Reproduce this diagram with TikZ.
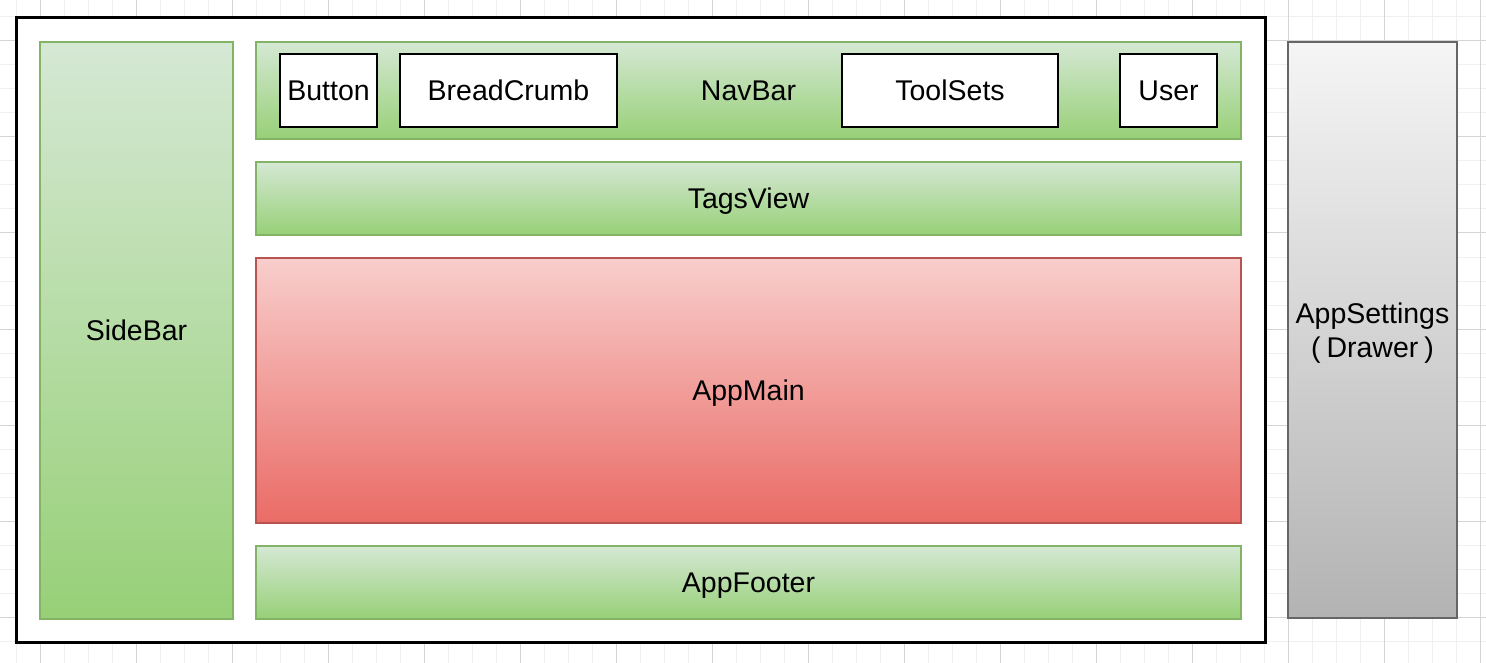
\documentclass[tikz,border=0pt]{standalone}
\usepackage{fontspec}
\setmainfont{Liberation Sans}
\usepackage{xcolor}

\definecolor{greenTop}{HTML}{D5E8D4}
\definecolor{greenBot}{HTML}{97D077}
\definecolor{greenLine}{HTML}{82B366}
\definecolor{redTop}{HTML}{F8CECC}
\definecolor{redBot}{HTML}{EA6B66}
\definecolor{redLine}{HTML}{B85450}
\definecolor{grayTop}{HTML}{F5F5F5}
\definecolor{grayBot}{HTML}{B3B3B3}
\definecolor{grayLine}{HTML}{666666}
\definecolor{gridMinor}{HTML}{F0F0F0}
\definecolor{gridMajor}{HTML}{D4D4D4}

\tikzset{
    minorline/.style={gridMinor, line width=1pt},
    majorline/.style={gridMajor, line width=1pt},
    lbl/.style={rectangle, inner sep=0pt, text height=20pt, text depth=0pt},
    layoutbox/.style={rectangle, draw=black, fill=white, line width=3pt, inner sep=0pt},
    greenbox/.style={lbl, draw=greenLine, line width=2pt, top color=greenTop, bottom color=greenBot},
    redbox/.style={lbl, draw=redLine, line width=2pt, top color=redTop, bottom color=redBot},
    graybox/.style={rectangle, inner sep=0pt, draw=grayLine, line width=2.5pt, top color=grayTop, bottom color=grayBot},
    whitebox/.style={lbl, draw=black, fill=white, line width=2.5pt, minimum height=73}
}

\begin{document}
\begin{tikzpicture}[x=1pt, y=-1pt, font=\fontsize{28.5}{34}\selectfont]
        \useasboundingbox (0,0) rectangle (1486,663);
        \fill[white] (0,0) rectangle (1486,663);

        % background grid
        \foreach \x in {16,40,...,1480} \draw[minorline] (\x,0) -- (\x,663);
        \foreach \y in {17,41,...,641} \draw[minorline] (0,\y) -- (1486,\y);
        \foreach \x in {40,136,...,1480} \draw[majorline] (\x,0) -- (\x,663);
        \foreach \y in {41,137,...,617} \draw[majorline] (0,\y) -- (1486,\y);

        \node[layoutbox, minimum width=1249, minimum height=624] (layout) at (640.5,330) {};

        \node[greenbox, minimum width=193, minimum height=577] (sidebar) at (136.5,330.5) {SideBar};
        \node[greenbox, minimum width=985, minimum height=97] (navbar) at (748.5,90.5) {NavBar};

        \node[whitebox, minimum width=97] (button) at (328.5,90.5) {Button};
        \node[whitebox, minimum width=217] (breadcrumb) at (508.5,90.5) {BreadCrumb};
        \node[whitebox, minimum width=216] (toolsets) at (950,90.5) {ToolSets};
        \node[whitebox, minimum width=97] (user) at (1168.5,90.5) {User};

        \node[greenbox, minimum width=985, minimum height=73] (tagsview) at (748.5,198.5) {TagsView};
        \node[redbox, minimum width=985, minimum height=265] (appmain) at (748.5,390.5) {AppMain};
        \node[greenbox, minimum width=985, minimum height=73] (appfooter) at (748.5,582.5) {AppFooter};

        \node[graybox, minimum width=169, minimum height=576] (appsettings) at (1372.5,330) {};
        \node[align=center, inner sep=0pt] (settingstext) at (1372.5,333) {AppSettings\\(\kern6pt Drawer\kern6pt)};
    \end{tikzpicture}
\end{document}
